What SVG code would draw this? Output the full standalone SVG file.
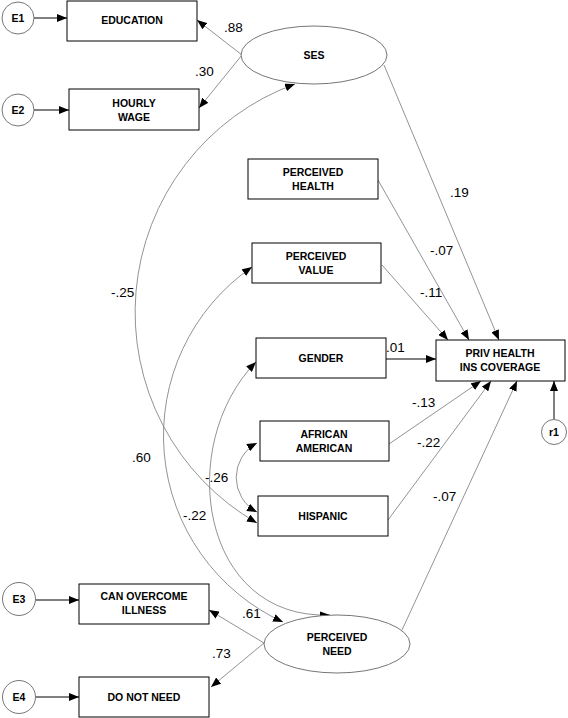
<svg xmlns="http://www.w3.org/2000/svg" width="568" height="718" viewBox="0 0 568 718">
<defs>
<style>
.box{fill:#fff;stroke:#000;stroke-width:1}
.ell{fill:#fff;stroke:#666;stroke-width:0.9}
.circ{fill:#fff;stroke:#666;stroke-width:0.9}
.lbl{font-family:"Liberation Sans",Arial,sans-serif;font-size:10.5px;font-weight:bold;text-anchor:middle;fill:#000}
.num{font-family:"Liberation Sans",Arial,sans-serif;font-size:13.5px;fill:#000}
.ln{fill:none;stroke:#777;stroke-width:0.8}
.dk{fill:none;stroke:#000;stroke-width:1}
</style>
<marker id="ah" viewBox="0 0 10 8" refX="10" refY="4" markerWidth="10" markerHeight="8" markerUnits="userSpaceOnUse" orient="auto-start-reverse">
<path d="M0,0 L10,4 L0,8 z" fill="#000"/>
</marker>
</defs>
<rect width="568" height="718" fill="#fff"/>
<g id="connectors">
<line class="dk" x1="34" y1="18" x2="67" y2="18" marker-end="url(#ah)"/>
<line class="dk" x1="34" y1="110" x2="69" y2="110" marker-end="url(#ah)"/>
<line class="dk" x1="36" y1="600" x2="79" y2="600" marker-end="url(#ah)"/>
<line class="dk" x1="36" y1="697" x2="79" y2="697" marker-end="url(#ah)"/>
<line class="dk" x1="554" y1="419" x2="554" y2="381" marker-end="url(#ah)"/>
<line class="ln" x1="242" y1="55" x2="197" y2="20" marker-end="url(#ah)"/>
<line class="ln" x1="242" y1="55" x2="199" y2="108" marker-end="url(#ah)"/>
<line class="ln" x1="384" y1="65" x2="499" y2="340" marker-end="url(#ah)"/>
<line class="ln" x1="378" y1="180" x2="469" y2="340" marker-end="url(#ah)"/>
<line class="ln" x1="382" y1="265" x2="448" y2="340" marker-end="url(#ah)"/>
<line class="dk" x1="386" y1="359" x2="436" y2="359" marker-end="url(#ah)"/>
<line class="ln" x1="389" y1="444" x2="481" y2="381" marker-end="url(#ah)"/>
<line class="ln" x1="388" y1="520" x2="491" y2="381" marker-end="url(#ah)"/>
<line class="ln" x1="402" y1="630" x2="517" y2="381" marker-end="url(#ah)"/>
<line class="ln" x1="264" y1="643" x2="209" y2="610" marker-end="url(#ah)"/>
<line class="ln" x1="264" y1="643" x2="211" y2="687" marker-end="url(#ah)"/>
<path class="ln" d="M295,84 A243,243 0 0 0 257,523" marker-start="url(#ah)" marker-end="url(#ah)"/>
<path class="ln" d="M252,267 A205,205 0 0 0 283,622" marker-start="url(#ah)" marker-end="url(#ah)"/>
<path class="ln" d="M256,362 C175,445 200,620 330,615" marker-start="url(#ah)" marker-end="url(#ah)"/>
<path class="ln" d="M257,443 A39,39 0 0 0 257,512" marker-start="url(#ah)" marker-end="url(#ah)"/>
</g>
<g id="labels">
<text class="num" x="224" y="32">.88</text>
<text class="num" x="195" y="76">.30</text>
<text class="num" x="450" y="197">.19</text>
<text class="num" x="430" y="255">-.07</text>
<text class="num" x="420" y="297">-.11</text>
<text class="num" x="386" y="352">.01</text>
<text class="num" x="412" y="407">-.13</text>
<text class="num" x="417" y="447">-.22</text>
<text class="num" x="433" y="501">-.07</text>
<text class="num" x="111" y="297">-.25</text>
<text class="num" x="132" y="462">.60</text>
<text class="num" x="205" y="482">-.26</text>
<text class="num" x="183" y="520">-.22</text>
<text class="num" x="242" y="618">.61</text>
<text class="num" x="212" y="658">.73</text>
</g>
<g id="E1"><circle class="circ" cx="18" cy="18" r="16"/><text class="lbl" x="18" y="22">E1</text></g>
<g id="E2"><circle class="circ" cx="18" cy="110" r="16"/><text class="lbl" x="18" y="114">E2</text></g>
<g id="E3"><circle class="circ" cx="19" cy="599" r="16.5"/><text class="lbl" x="19" y="603">E3</text></g>
<g id="E4"><circle class="circ" cx="19" cy="697" r="16.5"/><text class="lbl" x="19" y="701">E4</text></g>
<g id="r1"><circle class="circ" cx="554" cy="432" r="12.5"/><text class="lbl" x="554" y="436">r1</text></g>
<g id="education"><rect class="box" x="67" y="1" width="130" height="40"/><text class="lbl" x="132" y="24">EDUCATION</text></g>
<g id="hourly-wage"><rect class="box" x="69" y="89" width="130" height="41"/><text class="lbl" x="134" y="107">HOURLY</text><text class="lbl" x="134" y="121">WAGE</text></g>
<g id="ses"><ellipse class="ell" cx="314" cy="55" rx="73" ry="29"/><text class="lbl" x="314" y="59">SES</text></g>
<g id="perceived-health"><rect class="box" x="248" y="159" width="130" height="40"/><text class="lbl" x="313" y="176">PERCEIVED</text><text class="lbl" x="313" y="190">HEALTH</text></g>
<g id="perceived-value"><rect class="box" x="252" y="243" width="129" height="40"/><text class="lbl" x="316" y="260">PERCEIVED</text><text class="lbl" x="316" y="274">VALUE</text></g>
<g id="gender"><rect class="box" x="256" y="338" width="130" height="40"/><text class="lbl" x="321" y="362">GENDER</text></g>
<g id="priv-health"><rect class="box" x="436" y="340" width="129" height="41"/><text class="lbl" x="500" y="357">PRIV HEALTH</text><text class="lbl" x="500" y="371">INS COVERAGE</text></g>
<g id="african-american"><rect class="box" x="260" y="421" width="129" height="40"/><text class="lbl" x="324" y="438">AFRICAN</text><text class="lbl" x="324" y="452">AMERICAN</text></g>
<g id="hispanic"><rect class="box" x="258" y="496" width="130" height="40"/><text class="lbl" x="323" y="520">HISPANIC</text></g>
<g id="can-overcome"><rect class="box" x="79" y="584" width="130" height="40"/><text class="lbl" x="144" y="600">CAN OVERCOME</text><text class="lbl" x="144" y="614">ILLNESS</text></g>
<g id="do-not-need"><rect class="box" x="79" y="677" width="130" height="40"/><text class="lbl" x="144" y="701">DO NOT NEED</text></g>
<g id="perceived-need"><ellipse class="ell" cx="337" cy="644" rx="73" ry="29"/><text class="lbl" x="337" y="641">PERCEIVED</text><text class="lbl" x="337" y="655">NEED</text></g>
</svg>
